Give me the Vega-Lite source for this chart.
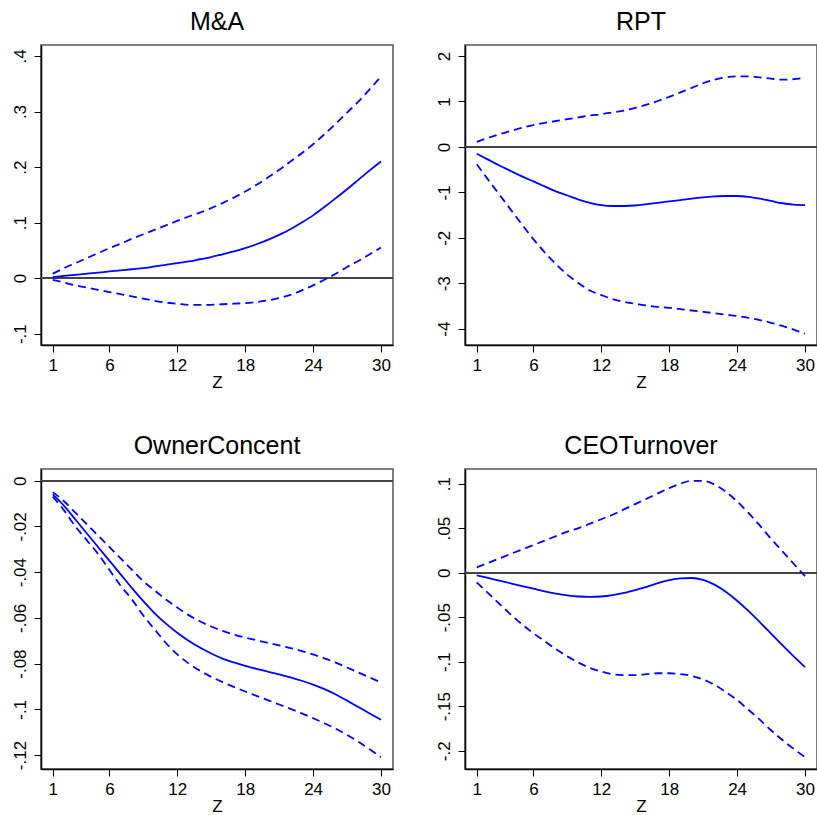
{
  "$schema": "https://vega.github.io/schema/vega-lite/v6.json",
  "padding": {"left": 10, "top": 9, "right": 0, "bottom": 0},
  "background": "white",
  "config": {
    "font": "Liberation Sans",
    "view": {"stroke": "#555", "strokeWidth": 1.5},
    "axis": {"labelFontSize": 17, "titleFontSize": 17, "titleFontWeight": "normal", "labelColor": "black", "titleColor": "black", "tickColor": "black", "domainColor": "black", "tickSize": 7, "tickWidth": 1, "domainWidth": 1.5, "grid": false, "labelFlush": false, "labelOverlap": false},
    "title": {"fontSize": 25, "fontWeight": "normal", "color": "black", "baseline": "alphabetic", "offset": 10},
    "line": {"color": "#0000ff", "strokeWidth": 1.8, "interpolate": "monotone"}
  },
  "data": {"values": [
    {"p":"MA","z":1,"est":0.002,"lo":-0.003,"hi":0.008},
    {"p":"MA","z":2,"est":0.004,"lo":-0.008,"hi":0.018},
    {"p":"MA","z":3,"est":0.006,"lo":-0.013,"hi":0.027},
    {"p":"MA","z":4,"est":0.008,"lo":-0.017,"hi":0.036},
    {"p":"MA","z":5,"est":0.010,"lo":-0.021,"hi":0.045},
    {"p":"MA","z":6,"est":0.012,"lo":-0.025,"hi":0.054},
    {"p":"MA","z":7,"est":0.014,"lo":-0.029,"hi":0.062},
    {"p":"MA","z":8,"est":0.016,"lo":-0.033,"hi":0.071},
    {"p":"MA","z":9,"est":0.018,"lo":-0.037,"hi":0.079},
    {"p":"MA","z":10,"est":0.021,"lo":-0.041,"hi":0.087},
    {"p":"MA","z":11,"est":0.024,"lo":-0.044,"hi":0.095},
    {"p":"MA","z":12,"est":0.027,"lo":-0.046,"hi":0.103},
    {"p":"MA","z":13,"est":0.030,"lo":-0.048,"hi":0.111},
    {"p":"MA","z":14,"est":0.034,"lo":-0.048,"hi":0.118},
    {"p":"MA","z":15,"est":0.038,"lo":-0.048,"hi":0.126},
    {"p":"MA","z":16,"est":0.043,"lo":-0.047,"hi":0.135},
    {"p":"MA","z":17,"est":0.048,"lo":-0.046,"hi":0.145},
    {"p":"MA","z":18,"est":0.054,"lo":-0.045,"hi":0.156},
    {"p":"MA","z":19,"est":0.061,"lo":-0.043,"hi":0.168},
    {"p":"MA","z":20,"est":0.069,"lo":-0.040,"hi":0.181},
    {"p":"MA","z":21,"est":0.078,"lo":-0.036,"hi":0.195},
    {"p":"MA","z":22,"est":0.088,"lo":-0.030,"hi":0.210},
    {"p":"MA","z":23,"est":0.100,"lo":-0.022,"hi":0.225},
    {"p":"MA","z":24,"est":0.113,"lo":-0.013,"hi":0.241},
    {"p":"MA","z":25,"est":0.128,"lo":-0.003,"hi":0.259},
    {"p":"MA","z":26,"est":0.144,"lo":0.008,"hi":0.278},
    {"p":"MA","z":27,"est":0.160,"lo":0.020,"hi":0.298},
    {"p":"MA","z":28,"est":0.177,"lo":0.031,"hi":0.318},
    {"p":"MA","z":29,"est":0.194,"lo":0.043,"hi":0.340},
    {"p":"MA","z":30,"est":0.210,"lo":0.055,"hi":0.363},
    {"p":"RPT","z":1,"est":-0.15,"lo":-0.38,"hi":0.11},
    {"p":"RPT","z":2,"est":-0.28,"lo":-0.72,"hi":0.20},
    {"p":"RPT","z":3,"est":-0.41,"lo":-1.05,"hi":0.28},
    {"p":"RPT","z":4,"est":-0.53,"lo":-1.38,"hi":0.35},
    {"p":"RPT","z":5,"est":-0.65,"lo":-1.71,"hi":0.42},
    {"p":"RPT","z":6,"est":-0.76,"lo":-2.03,"hi":0.48},
    {"p":"RPT","z":7,"est":-0.87,"lo":-2.32,"hi":0.53},
    {"p":"RPT","z":8,"est":-0.98,"lo":-2.58,"hi":0.57},
    {"p":"RPT","z":9,"est":-1.07,"lo":-2.81,"hi":0.61},
    {"p":"RPT","z":10,"est":-1.16,"lo":-3.00,"hi":0.65},
    {"p":"RPT","z":11,"est":-1.23,"lo":-3.16,"hi":0.69},
    {"p":"RPT","z":12,"est":-1.28,"lo":-3.26,"hi":0.72},
    {"p":"RPT","z":13,"est":-1.30,"lo":-3.35,"hi":0.76},
    {"p":"RPT","z":14,"est":-1.30,"lo":-3.41,"hi":0.80},
    {"p":"RPT","z":15,"est":-1.29,"lo":-3.45,"hi":0.86},
    {"p":"RPT","z":16,"est":-1.26,"lo":-3.49,"hi":0.93},
    {"p":"RPT","z":17,"est":-1.23,"lo":-3.52,"hi":1.01},
    {"p":"RPT","z":18,"est":-1.20,"lo":-3.54,"hi":1.10},
    {"p":"RPT","z":19,"est":-1.17,"lo":-3.57,"hi":1.20},
    {"p":"RPT","z":20,"est":-1.14,"lo":-3.60,"hi":1.30},
    {"p":"RPT","z":21,"est":-1.11,"lo":-3.63,"hi":1.40},
    {"p":"RPT","z":22,"est":-1.09,"lo":-3.66,"hi":1.48},
    {"p":"RPT","z":23,"est":-1.08,"lo":-3.69,"hi":1.53},
    {"p":"RPT","z":24,"est":-1.08,"lo":-3.72,"hi":1.55},
    {"p":"RPT","z":25,"est":-1.10,"lo":-3.76,"hi":1.55},
    {"p":"RPT","z":26,"est":-1.14,"lo":-3.81,"hi":1.53},
    {"p":"RPT","z":27,"est":-1.19,"lo":-3.87,"hi":1.50},
    {"p":"RPT","z":28,"est":-1.24,"lo":-3.94,"hi":1.48},
    {"p":"RPT","z":29,"est":-1.27,"lo":-4.02,"hi":1.49},
    {"p":"RPT","z":30,"est":-1.28,"lo":-4.11,"hi":1.52},
    {"p":"OC","z":1,"est":-0.006,"lo":-0.007,"hi":-0.005},
    {"p":"OC","z":2,"est":-0.011,"lo":-0.013,"hi":-0.009},
    {"p":"OC","z":3,"est":-0.017,"lo":-0.020,"hi":-0.014},
    {"p":"OC","z":4,"est":-0.023,"lo":-0.026,"hi":-0.019},
    {"p":"OC","z":5,"est":-0.029,"lo":-0.032,"hi":-0.024},
    {"p":"OC","z":6,"est":-0.035,"lo":-0.039,"hi":-0.029},
    {"p":"OC","z":7,"est":-0.041,"lo":-0.046,"hi":-0.034},
    {"p":"OC","z":8,"est":-0.047,"lo":-0.052,"hi":-0.039},
    {"p":"OC","z":9,"est":-0.0527,"lo":-0.059,"hi":-0.044},
    {"p":"OC","z":10,"est":-0.058,"lo":-0.065,"hi":-0.048},
    {"p":"OC","z":11,"est":-0.0625,"lo":-0.071,"hi":-0.052},
    {"p":"OC","z":12,"est":-0.0665,"lo":-0.076,"hi":-0.0555},
    {"p":"OC","z":13,"est":-0.0700,"lo":-0.0799,"hi":-0.0588},
    {"p":"OC","z":14,"est":-0.0730,"lo":-0.0831,"hi":-0.0615},
    {"p":"OC","z":15,"est":-0.0756,"lo":-0.0858,"hi":-0.0638},
    {"p":"OC","z":16,"est":-0.0778,"lo":-0.0881,"hi":-0.0657},
    {"p":"OC","z":17,"est":-0.0795,"lo":-0.0902,"hi":-0.0673},
    {"p":"OC","z":18,"est":-0.0810,"lo":-0.0922,"hi":-0.0686},
    {"p":"OC","z":19,"est":-0.0823,"lo":-0.0941,"hi":-0.0698},
    {"p":"OC","z":20,"est":-0.0835,"lo":-0.0960,"hi":-0.0709},
    {"p":"OC","z":21,"est":-0.0847,"lo":-0.0979,"hi":-0.0720},
    {"p":"OC","z":22,"est":-0.0860,"lo":-0.0998,"hi":-0.0732},
    {"p":"OC","z":23,"est":-0.0875,"lo":-0.1018,"hi":-0.0745},
    {"p":"OC","z":24,"est":-0.0892,"lo":-0.1039,"hi":-0.0760},
    {"p":"OC","z":25,"est":-0.0912,"lo":-0.1061,"hi":-0.0777},
    {"p":"OC","z":26,"est":-0.0935,"lo":-0.1085,"hi":-0.0796},
    {"p":"OC","z":27,"est":-0.0962,"lo":-0.1112,"hi":-0.0817},
    {"p":"OC","z":28,"est":-0.0990,"lo":-0.1142,"hi":-0.0839},
    {"p":"OC","z":29,"est":-0.1018,"lo":-0.1175,"hi":-0.0861},
    {"p":"OC","z":30,"est":-0.1046,"lo":-0.1210,"hi":-0.0882},
    {"p":"CEO","z":1,"est":-0.003,"lo":-0.011,"hi":0.006},
    {"p":"CEO","z":2,"est":-0.006,"lo":-0.023,"hi":0.011},
    {"p":"CEO","z":3,"est":-0.009,"lo":-0.035,"hi":0.016},
    {"p":"CEO","z":4,"est":-0.012,"lo":-0.047,"hi":0.021},
    {"p":"CEO","z":5,"est":-0.015,"lo":-0.058,"hi":0.026},
    {"p":"CEO","z":6,"est":-0.018,"lo":-0.068,"hi":0.031},
    {"p":"CEO","z":7,"est":-0.021,"lo":-0.077,"hi":0.036},
    {"p":"CEO","z":8,"est":-0.0235,"lo":-0.086,"hi":0.041},
    {"p":"CEO","z":9,"est":-0.0255,"lo":-0.094,"hi":0.046},
    {"p":"CEO","z":10,"est":-0.0268,"lo":-0.101,"hi":0.050},
    {"p":"CEO","z":11,"est":-0.0273,"lo":-0.107,"hi":0.055},
    {"p":"CEO","z":12,"est":-0.0268,"lo":-0.111,"hi":0.060},
    {"p":"CEO","z":13,"est":-0.0252,"lo":-0.114,"hi":0.065},
    {"p":"CEO","z":14,"est":-0.0227,"lo":-0.115,"hi":0.071},
    {"p":"CEO","z":15,"est":-0.0195,"lo":-0.115,"hi":0.077},
    {"p":"CEO","z":16,"est":-0.0160,"lo":-0.114,"hi":0.083},
    {"p":"CEO","z":17,"est":-0.0118,"lo":-0.113,"hi":0.089},
    {"p":"CEO","z":18,"est":-0.0085,"lo":-0.113,"hi":0.095},
    {"p":"CEO","z":19,"est":-0.0064,"lo":-0.114,"hi":0.100},
    {"p":"CEO","z":20,"est":-0.0060,"lo":-0.116,"hi":0.103},
    {"p":"CEO","z":21,"est":-0.0082,"lo":-0.120,"hi":0.103},
    {"p":"CEO","z":22,"est":-0.0135,"lo":-0.126,"hi":0.099},
    {"p":"CEO","z":23,"est":-0.0215,"lo":-0.134,"hi":0.091},
    {"p":"CEO","z":24,"est":-0.0315,"lo":-0.143,"hi":0.080},
    {"p":"CEO","z":25,"est":-0.0430,"lo":-0.154,"hi":0.067},
    {"p":"CEO","z":26,"est":-0.0555,"lo":-0.165,"hi":0.053},
    {"p":"CEO","z":27,"est":-0.0685,"lo":-0.177,"hi":0.038},
    {"p":"CEO","z":28,"est":-0.0815,"lo":-0.188,"hi":0.024},
    {"p":"CEO","z":29,"est":-0.0940,"lo":-0.198,"hi":0.010},
    {"p":"CEO","z":30,"est":-0.1060,"lo":-0.207,"hi":-0.004}
  ]},
  "columns": 2,
  "spacing": {"row": 124, "column": 72},
  "bounds": "flush",
  "concat": [
    {
      "title": "M&A",
      "width": 352, "height": 300,
      "transform": [{"filter": "datum.p === 'MA'"}],
      "layer": [
        {"mark": {"type": "rule", "color": "#444", "strokeWidth": 1.5}, "encoding": {"y": {"datum": 0, "type": "quantitative", "title": null}}},
        {"mark": {"type": "line"}, "encoding": {
          "x": {"field": "z", "type": "quantitative", "scale": {"domain": [-0.04, 31.06], "nice": false, "zero": false}, "axis": {"values": [1, 6, 12, 18, 24, 30], "title": "Z", "labelPadding": 5, "titlePadding": 1}},
          "y": {"field": "est", "type": "quantitative", "title": null, "scale": {"domain": [-0.1204, 0.4198], "nice": false, "zero": false}, "axis": {"values": [-0.1, 0, 0.1, 0.2, 0.3, 0.4], "labelAngle": 270, "labelAlign": "center", "labelBaseline": "alphabetic", "labelPadding": 9, "labelExpr": "replace(toString(datum.value), regexp('^(-?)0[.]'), '$1.')"}}}},
        {"mark": {"type": "line", "strokeDash": [8, 5]}, "encoding": {"x": {"field": "z", "type": "quantitative"}, "y": {"field": "lo", "type": "quantitative", "title": null}}},
        {"mark": {"type": "line", "strokeDash": [8, 5]}, "encoding": {"x": {"field": "z", "type": "quantitative"}, "y": {"field": "hi", "type": "quantitative", "title": null}}}
      ]
    },
    {
      "title": "RPT",
      "width": 352, "height": 300,
      "transform": [{"filter": "datum.p === 'RPT'"}],
      "layer": [
        {"mark": {"type": "rule", "color": "#444", "strokeWidth": 1.5}, "encoding": {"y": {"datum": 0, "type": "quantitative", "title": null}}},
        {"mark": {"type": "line"}, "encoding": {
          "x": {"field": "z", "type": "quantitative", "scale": {"domain": [-0.04, 31.06], "nice": false, "zero": false}, "axis": {"values": [1, 6, 12, 18, 24, 30], "title": "Z", "labelPadding": 5, "titlePadding": 1}},
          "y": {"field": "est", "type": "quantitative", "title": null, "scale": {"domain": [-4.359, 2.242], "nice": false, "zero": false}, "axis": {"values": [-4, -3, -2, -1, 0, 1, 2], "labelAngle": 270, "labelAlign": "center", "labelBaseline": "alphabetic", "labelPadding": 9, "labelExpr": "replace(toString(datum.value), regexp('^(-?)0[.]'), '$1.')"}}}},
        {"mark": {"type": "line", "strokeDash": [8, 5]}, "encoding": {"x": {"field": "z", "type": "quantitative"}, "y": {"field": "lo", "type": "quantitative", "title": null}}},
        {"mark": {"type": "line", "strokeDash": [8, 5]}, "encoding": {"x": {"field": "z", "type": "quantitative"}, "y": {"field": "hi", "type": "quantitative", "title": null}}}
      ]
    },
    {
      "title": "OwnerConcent",
      "width": 352, "height": 300,
      "transform": [{"filter": "datum.p === 'OC'"}],
      "layer": [
        {"mark": {"type": "rule", "color": "#444", "strokeWidth": 1.5}, "encoding": {"y": {"datum": 0, "type": "quantitative", "title": null}}},
        {"mark": {"type": "line"}, "encoding": {
          "x": {"field": "z", "type": "quantitative", "scale": {"domain": [-0.04, 31.06], "nice": false, "zero": false}, "axis": {"values": [1, 6, 12, 18, 24, 30], "title": "Z", "labelPadding": 5, "titlePadding": 1}},
          "y": {"field": "est", "type": "quantitative", "title": null, "scale": {"domain": [-0.1261, 0.0051], "nice": false, "zero": false}, "axis": {"values": [-0.12, -0.1, -0.08, -0.06, -0.04, -0.02, 0], "labelAngle": 270, "labelAlign": "center", "labelBaseline": "alphabetic", "labelPadding": 9, "labelExpr": "replace(toString(datum.value), regexp('^(-?)0[.]'), '$1.')"}}}},
        {"mark": {"type": "line", "strokeDash": [8, 5]}, "encoding": {"x": {"field": "z", "type": "quantitative"}, "y": {"field": "lo", "type": "quantitative", "title": null}}},
        {"mark": {"type": "line", "strokeDash": [8, 5]}, "encoding": {"x": {"field": "z", "type": "quantitative"}, "y": {"field": "hi", "type": "quantitative", "title": null}}}
      ]
    },
    {
      "title": "CEOTurnover",
      "width": 352, "height": 300,
      "transform": [{"filter": "datum.p === 'CEO'"}],
      "layer": [
        {"mark": {"type": "rule", "color": "#444", "strokeWidth": 1.5}, "encoding": {"y": {"datum": 0, "type": "quantitative", "title": null}}},
        {"mark": {"type": "line"}, "encoding": {
          "x": {"field": "z", "type": "quantitative", "scale": {"domain": [-0.04, 31.06], "nice": false, "zero": false}, "axis": {"values": [1, 6, 12, 18, 24, 30], "title": "Z", "labelPadding": 5, "titlePadding": 1}},
          "y": {"field": "est", "type": "quantitative", "title": null, "scale": {"domain": [-0.2205, 0.1164], "nice": false, "zero": false}, "axis": {"values": [-0.2, -0.15, -0.1, -0.05, 0, 0.05, 0.1], "labelAngle": 270, "labelAlign": "center", "labelBaseline": "alphabetic", "labelPadding": 9, "labelExpr": "replace(toString(datum.value), regexp('^(-?)0[.]'), '$1.')"}}}},
        {"mark": {"type": "line", "strokeDash": [8, 5]}, "encoding": {"x": {"field": "z", "type": "quantitative"}, "y": {"field": "lo", "type": "quantitative", "title": null}}},
        {"mark": {"type": "line", "strokeDash": [8, 5]}, "encoding": {"x": {"field": "z", "type": "quantitative"}, "y": {"field": "hi", "type": "quantitative", "title": null}}}
      ]
    }
  ]
}
